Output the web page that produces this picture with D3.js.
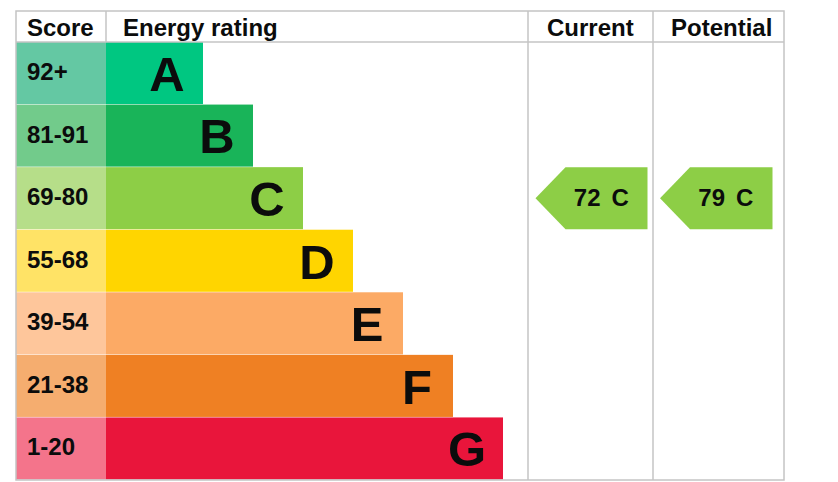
<!DOCTYPE html>
<html><head><meta charset="utf-8">
<script src="https://cdn.jsdelivr.net/npm/d3@7"></script>
<style>html,body{margin:0;padding:0;background:#fff;}svg{display:block;}</style>
</head><body>
<svg id="c" width="838" height="482"></svg>
<script>
const bands = ["A","B","C","D","E","F","G"];
const ranges = ["92+","81-91","69-80","55-68","39-54","21-38","1-20"];
const minScores = [92,81,69,55,39,21,1];
const barColors = ["#00c781","#19b459","#8dce46","#ffd500","#fcaa65","#ef8023","#e9153b"];
const scoreColors = ["#64c8a3","#72cb8b","#b6de89","#ffe366","#fec69b","#f5ad6f","#f4748b"];
const headers = ["Score","Energy rating","Current","Potential"];
const currentScore = 72;
const potentialScore = 79;

(function(){
const svg = d3.select("#c");
const font = "'Liberation Sans', Arial, sans-serif";
const ink = "#0b0c0c";
const L = 16, R = 784, T = 11, HB = 42, B = 480;
const colScore = 106, colCur = 528, colPot = 653;

const y = d3.scaleBand().domain(bands).range([HB, B - 0.5]).paddingInner(0.008);
const xEnd = d3.scaleLinear().domain([0, 7]).range([153, 503]);

function bandOf(s){ let i = minScores.findIndex(m => s >= m); return bands[i < 0 ? 6 : i]; }

svg.selectAll("rect.score").data(bands).enter().append("rect")
  .attr("x", L).attr("y", d => y(d)).attr("width", colScore - L).attr("height", y.bandwidth())
  .attr("fill", (d,i) => scoreColors[i]);
svg.selectAll("rect.bar").data(bands).enter().append("rect")
  .attr("x", colScore).attr("y", d => y(d)).attr("width", (d,i) => xEnd(i+1) - colScore).attr("height", y.bandwidth())
  .attr("fill", (d,i) => barColors[i]);
svg.selectAll("text.score").data(bands).enter().append("text")
  .attr("x", 27).attr("y", d => y(d) + y.bandwidth()/2 + 7)
  .attr("font-family", font).attr("font-weight", "bold").attr("font-size", 24).attr("fill", ink)
  .text((d,i) => ranges[i]);
svg.selectAll("text.letter").data(bands).enter().append("text")
  .attr("x", (d,i) => xEnd(i+1) - 36).attr("y", d => y(d) + y.bandwidth()/2 + 17.8)
  .attr("text-anchor", "middle")
  .attr("font-family", font).attr("font-weight", "bold").attr("font-size", 49).attr("fill", ink)
  .text(d => d);

const g = svg.append("g").attr("stroke", "#c4c4c4").attr("stroke-width", 1.5).attr("fill", "none");
g.append("rect").attr("x", L).attr("y", T).attr("width", R - L).attr("height", B - T);
g.append("line").attr("x1", L).attr("x2", R).attr("y1", HB).attr("y2", HB);
[colScore].forEach(x => g.append("line").attr("x1", x).attr("x2", x).attr("y1", T).attr("y2", HB));
[colCur, colPot].forEach(x => g.append("line").attr("x1", x).attr("x2", x).attr("y1", T).attr("y2", B));

const hx = [27, 123, 547, 671];
svg.selectAll("text.head").data(headers).enter().append("text")
  .attr("x", (d,i) => hx[i]).attr("y", 36)
  .attr("font-family", font).attr("font-weight", "bold").attr("font-size", 24).attr("fill", ink)
  .text(d => d);

function arrow(score, x0, x1){
  const b = bandOf(score), i = bands.indexOf(b);
  const t = y(b), h = y.bandwidth(), m = t + h/2;
  svg.append("path")
    .attr("d", `M${x0},${m} L${x0+30},${t} L${x1},${t} L${x1},${t+h} L${x0+30},${t+h} Z`)
    .attr("fill", barColors[i]);
  svg.append("text").attr("x", x0 + 65).attr("y", m + 8).attr("text-anchor", "end")
    .attr("font-family", font).attr("font-weight", "bold").attr("font-size", 24).attr("fill", ink).text(score);
  svg.append("text").attr("x", x0 + 76).attr("y", m + 8)
    .attr("font-family", font).attr("font-weight", "bold").attr("font-size", 24).attr("fill", ink).text(b);
}
arrow(currentScore, 535.5, 647.5);
arrow(potentialScore, 660, 772.5);
})();
</script>
</body></html>
